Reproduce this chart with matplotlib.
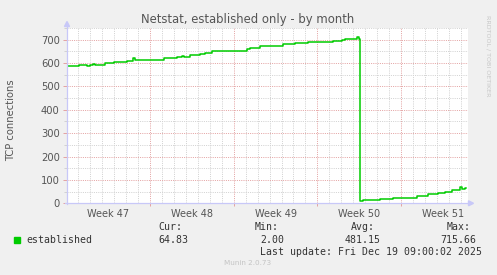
import matplotlib
matplotlib.use('Agg')
import matplotlib.pyplot as plt
from matplotlib.lines import Line2D
from matplotlib.patches import Polygon, Rectangle

# ---- data (x = days since Sun Nov 16 2025 00:00) ----
days = [0.05, 1.06, 1.73, 1.98, 2.23, 2.40, 3.23, 3.99, 5.08, 5.58, 5.74,
        8.17, 9.26, 9.68, 9.85, 10.35, 11.18, 11.60, 12.19, 14.11, 14.28,
        15.12, 15.37, 16.21, 17.21, 18.13, 19.13, 20.22, 22.31, 23.07, 23.32,
        23.74, 23.99, 24.32, 24.45, 24.53, 24.82, 26.25, 27.33, 29.34, 30.26,
        31.10, 31.69, 32.27, 32.94, 33.07, 33.36, 33.45]
established = [588, 593, 589, 593, 596, 592, 600, 604, 608, 620, 611,
               621, 626, 629, 626, 634, 640, 643, 651, 653, 651,
               661, 664, 671, 675, 681, 686, 690, 696, 700, 702,
               704, 701, 712, 705, 11, 14, 18, 24, 33, 38,
               43, 50, 57, 69, 61, 66, 65]
week_label_pos = [3.5, 10.5, 17.5, 24.5, 31.5]
week_labels = ["Week 47", "Week 48", "Week 49", "Week 50", "Week 51"]
week_bounds = [7, 14, 21, 28]
yticks = [0, 100, 200, 300, 400, 500, 600, 700]
title = "Netstat, established only - by month"
ylabel = "TCP connections"
legend_name = "established"
stats = {"Cur:": "64.83", "Min:": "2.00", "Avg:": "481.15", "Max:": "715.66"}
last_update = "Last update: Fri Dec 19 09:00:02 2025"

W, H = 497, 275
fig = plt.figure(figsize=(W / 100, H / 100), dpi=100, facecolor='#F0F0F0')
L, R, T, B = 67, 468.3, 28, 203.3
ax = fig.add_axes([L / W, 1 - B / H, (R - L) / W, (B - T) / H])
ax.set_facecolor('white')
ax.set_xlim(0.05, 33.63)
ax.set_ylim(0, 750)
for s in ax.spines.values():
    s.set_visible(False)

minor_c = '#D2D2D2'
major_c = '#E4A4A4'
dot = (0, (1, 1.2))
for d in range(1, 34):
    if d not in week_bounds:
        ax.axvline(d, color=minor_c, lw=0.72, ls=dot, zorder=1)
for v in range(50, 751, 100):
    ax.axhline(v, color=minor_c, lw=0.72, ls=dot, zorder=1)
for v in range(100, 701, 100):
    ax.axhline(v, color=major_c, lw=0.72, ls=dot, zorder=1.5)
for d in week_bounds:
    ax.axvline(d, color=major_c, lw=0.72, ls=dot, zorder=1.5)

ax.step(days, established, where='post', color='#00CC00', lw=1.1, zorder=3)

ax.set_yticks(yticks)
ax.set_yticklabels([str(v) for v in yticks])
ax.set_yticks(list(range(50, 751, 100)), minor=True)
ax.tick_params(axis='y', which='major', length=3, width=0.72, color=major_c,
               pad=2.2, labelsize=7.2, labelcolor='#555555')
ax.tick_params(axis='y', which='minor', length=2, width=0.72, color=minor_c)
ax.set_xticks(week_bounds)
ax.set_xticklabels([''] * len(week_bounds))
ax.set_xticks(week_label_pos, minor=True)
ax.set_xticklabels(week_labels, minor=True)
ax.tick_params(axis='x', which='major', length=2.5, width=0.72, color=major_c)
ax.tick_params(axis='x', which='minor', length=0, pad=4.2,
               labelsize=7.0, labelcolor='#555555')


def fx(x):
    return x / W


def fy(y):
    return 1 - y / H


axis_c = '#C8C8F8'
fig.add_artist(Line2D([fx(L), fx(L)], [fy(B + 1), fy(24)], color=axis_c, lw=0.9,
                      transform=fig.transFigure))
fig.add_artist(Line2D([fx(L - 2), fx(471)], [fy(B), fy(B)], color=axis_c, lw=0.9,
                      transform=fig.transFigure))
fig.add_artist(Polygon([[fx(L - 2.5), fy(26.5)], [fx(L + 2.5), fy(26.5)], [fx(L), fy(21.5)]],
                       closed=True, color=axis_c, transform=fig.transFigure))
fig.add_artist(Polygon([[fx(468.5), fy(B - 2.5)], [fx(468.5), fy(B + 2.5)], [fx(473.5), fy(B)]],
                       closed=True, color=axis_c, transform=fig.transFigure))

fig.text(fx(248), fy(19), title, ha='center', va='center', fontsize=8.4,
         color='#555555')
fig.text(fx(11), fy(120), ylabel, ha='center', va='center', rotation=90,
         fontsize=7.2, color='#555555')
fig.text(fx(487.5), fy(56), "RRDTOOL / TOBI OETIKER", ha='center', va='center',
         rotation=270, fontsize=4.6, color='#C8C8C8')
fig.text(fx(248), fy(263.3), "Munin 2.0.73", ha='center', va='center',
         fontsize=5.2, color='#C4C4C4')

fig.add_artist(Rectangle((fx(14), fy(243)), 6 / W, 6 / H, color='#00CC00',
                         transform=fig.transFigure))
mono = dict(family='DejaVu Sans Mono', fontsize=7.1, color='#333333', va='center')
fig.text(fx(26), fy(240), legend_name, ha='left', **mono)
head_x = [158, 254.7, 351, 446.7]
val_right = [188.5, 284.5, 380.7, 476.7]
for (k, v), hx in zip(stats.items(), head_x):
    fig.text(fx(hx), fy(227.3), k, ha='left', **mono)
for i, ((k, v), vr) in enumerate(zip(stats.items(), val_right)):
    if i == 0:
        fig.text(fx(158), fy(240), v, ha='left', **mono)
    else:
        fig.text(fx(vr), fy(240), v, ha='right', **mono)
fig.text(fx(482.5), fy(252), last_update, ha='right', **mono)

fig.savefig('out.png', dpi=100, facecolor=fig.get_facecolor())
